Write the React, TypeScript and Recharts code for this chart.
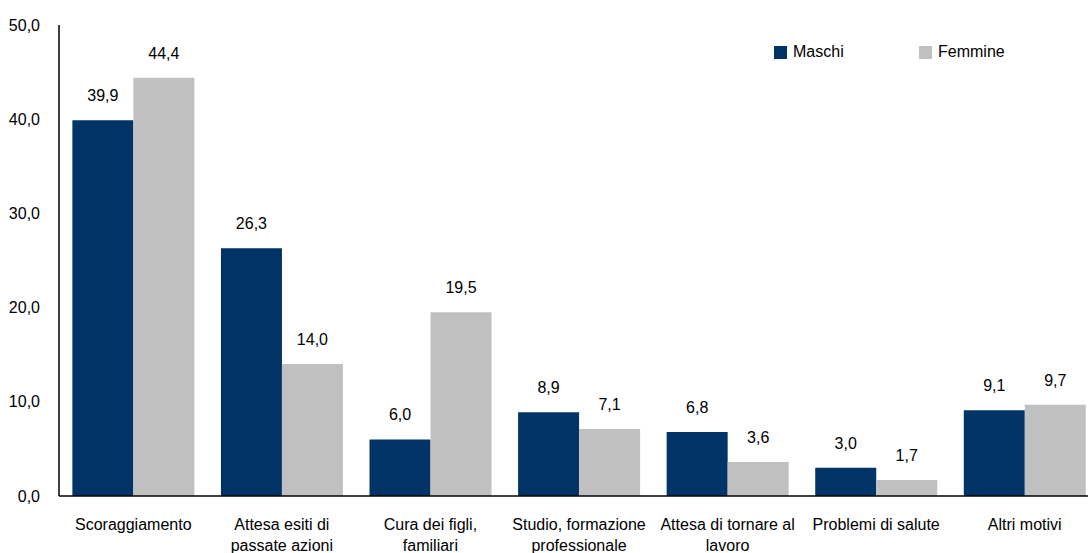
import React from 'react';
import { BarChart, Bar, XAxis, YAxis, Legend, LabelList } from 'recharts';

const categories = [
  'Scoraggiamento',
  'Attesa esiti di\npassate azioni',
  'Cura dei figli,\nfamiliari',
  'Studio, formazione\nprofessionale',
  'Attesa di tornare al\nlavoro',
  'Problemi di salute',
  'Altri motivi',
];
const maschi = [39.9, 26.3, 6.0, 8.9, 6.8, 3.0, 9.1];
const femmine = [44.4, 14.0, 19.5, 7.1, 3.6, 1.7, 9.7];
const yTicks = [0, 10, 20, 30, 40, 50];

const NAVY = '#003366';
const GRAY = '#c0c0c0';
const FONT = '"Liberation Sans", Arial, sans-serif';

const data = categories.map((name, i) => ({ name, maschi: maschi[i], femmine: femmine[i] }));

const fmt = (v: number) => v.toFixed(1).replace('.', ',');

const CategoryTick = (props: any) => {
  const { x, y, payload } = props;
  const lines = String(payload.value).split('\n');
  return (
    <g>
      {lines.map((line, i) => (
        <text key={i} x={x} y={y + 26 + i * 21} textAnchor="middle" fill="#000" fontSize={16} fontFamily={FONT}>
          {line}
        </text>
      ))}
    </g>
  );
};

const renderValue = (props: any) => {
  const { x, y, width, value } = props;
  return (
    <text x={x + width / 2} y={y - 19} textAnchor="middle" fill="#000" fontSize={16} fontFamily={FONT}>
      {fmt(value)}
    </text>
  );
};

const LegendBox = () => (
  <div style={{ display: 'flex', fontFamily: FONT, fontSize: 16, color: '#000' }}>
    <div style={{ display: 'flex', alignItems: 'center', width: 145 }}>
      <span style={{ width: 13, height: 13, background: NAVY, marginRight: 6, display: 'inline-block' }} />
      Maschi
    </div>
    <div style={{ display: 'flex', alignItems: 'center' }}>
      <span style={{ width: 13, height: 13, background: GRAY, marginRight: 6, display: 'inline-block' }} />
      Femmine
    </div>
  </div>
);

export default function App() {
  return (
    <div style={{ position: 'absolute', left: 0, top: 0, width: 1088, height: 553, overflow: 'hidden', background: '#fff' }}>
      <BarChart
        width={1099}
        height={553}
        data={data}
        margin={{ top: 25, right: 0, left: 0, bottom: 7 }}
        barCategoryGap="9%"
        barGap={0}
      >
        <XAxis
          dataKey="name"
          interval={0}
          tick={<CategoryTick />}
          tickLine={false}
          axisLine={{ stroke: '#000', strokeWidth: 1.5 }}
          height={50}
        />
        <YAxis
          width={59}
          domain={[0, 50]}
          ticks={yTicks}
          tickFormatter={fmt}
          tickLine={false}
          tickSize={6}
          tickMargin={13}
          axisLine={{ stroke: '#000', strokeWidth: 1.5 }}
          tick={{ fill: '#000', fontSize: 16, fontFamily: FONT }}
        />
        <Legend
          content={<LegendBox />}
          verticalAlign="middle"
          align="center"
          wrapperStyle={{ position: 'absolute', top: 43, left: 774, width: 300 }}
        />
        <Bar dataKey="maschi" name="Maschi" fill={NAVY} isAnimationActive={false}>
          <LabelList dataKey="maschi" content={renderValue} />
        </Bar>
        <Bar dataKey="femmine" name="Femmine" fill={GRAY} isAnimationActive={false}>
          <LabelList dataKey="femmine" content={renderValue} />
        </Bar>
      </BarChart>
    </div>
  );
}
